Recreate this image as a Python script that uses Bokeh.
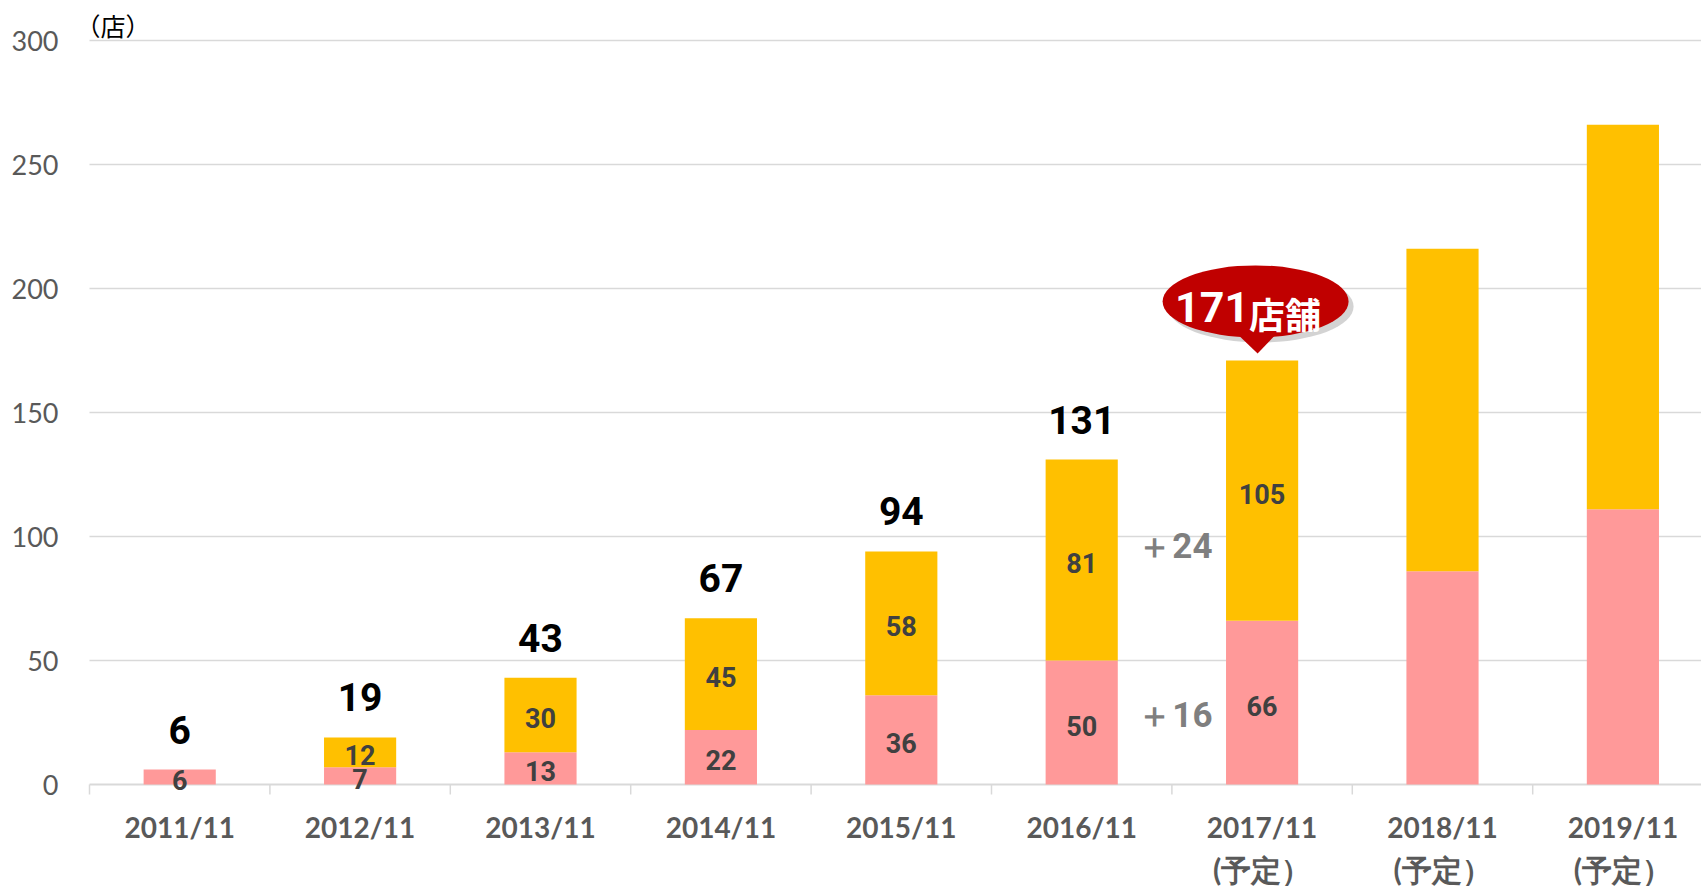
from bokeh.plotting import figure
from bokeh.models import FixedTicker, Range1d, ColumnDataSource
from bokeh.core.properties import value
from bokeh.embed import file_html
from bokeh.resources import INLINE

# ---------------- data ----------------
years = ["2011/11", "2012/11", "2013/11", "2014/11", "2015/11",
         "2016/11", "2017/11", "2018/11", "2019/11"]
planned = [False, False, False, False, False, False, True, True, True]
existing = [6, 7, 13, 22, 36, 50, 66, 86, 111]      # pink (lower)
new_open = [0, 12, 30, 45, 58, 81, 105, 130, 155]   # yellow (upper)
totals = [e + n for e, n in zip(existing, new_open)]
labelled_bars = 7          # segment values printed for first 7 bars
total_labelled = 6         # totals printed above first 6 bars
callout_idx = 6            # 171店舗 balloon
callout_unit = "店舗"
diff_notes = [("＋24", 96), ("＋16", 28)]   # text, y position
y_ticks = [0, 50, 100, 150, 200, 250, 300]
unit_label = "（店）"
plan_label = "(予定）"

# ---------------- style / layout ----------------
PINK = "#FF9999"
YELLOW = "#FFC000"
RED = "#C00000"
GRID = "#D9D9D9"
LABEL_GREY = "#595959"
NUM_FONT = value("Roboto")
PXX = 180.4    # px per category
PXY = 2.48     # px per store

W, H = 1701, 886
PLOT_LEFT = 89          # where the category area starts
LEFT = 64               # frame starts a bit earlier (room for unit label)
ZERO_Y = 784            # pixel row of the zero line
frame_w = W - LEFT
x0 = -0.5 - (PLOT_LEFT - LEFT) / PXX
x1 = x0 + frame_w / PXX
y_top = ZERO_Y / PXY
y_bot = -(H - ZERO_Y) / PXY

p = figure(width=W, height=H, output_backend="svg", toolbar_location=None,
           x_range=Range1d(x0, x1), y_range=Range1d(y_bot, y_top),
           min_border_left=LEFT, min_border_bottom=0,
           min_border_top=0, min_border_right=0)
p.outline_line_color = None
p.background_fill_color = "white"
p.border_fill_color = "white"

xs = list(range(len(years)))

# gridlines (start at the category area, like the original)
p.segment(x0=[-0.5] * len(y_ticks), x1=[x1] * len(y_ticks), y0=y_ticks, y1=y_ticks,
          line_color=GRID, line_width=[2] + [1.5] * (len(y_ticks) - 1))
# category separator ticks under the zero line
bounds = [i - 0.5 for i in range(len(years) + 1)]
p.segment(x0=bounds, x1=bounds, y0=[0] * len(bounds), y1=[-10 / PXY] * len(bounds),
          line_color=GRID, line_width=1.5)

# bars
src = ColumnDataSource(dict(x=xs, e=existing, t=totals))
p.vbar(x="x", width=0.4, bottom=0, top="e", source=src,
       fill_color=PINK, line_color=None)
p.vbar(x="x", width=0.4, bottom="e", top="t", source=src,
       fill_color=YELLOW, line_color=None)

# segment labels
seg_x, seg_y, seg_t = [], [], []
for i in range(labelled_bars):
    if existing[i] > 0:
        seg_x.append(i); seg_y.append(existing[i] / 2); seg_t.append(str(existing[i]))
    if new_open[i] > 0:
        seg_x.append(i); seg_y.append(existing[i] + new_open[i] / 2); seg_t.append(str(new_open[i]))
p.text(x=seg_x, y=seg_y, text=seg_t, text_align="center", text_baseline="middle",
       y_offset=3, text_font=NUM_FONT, text_font_style="bold",
       text_font_size="27px", text_color="#404040")

# totals above bars
p.text(x=xs[:total_labelled], y=totals[:total_labelled],
       text=[str(t) for t in totals[:total_labelled]],
       text_align="center", text_baseline="middle", y_offset=-40,
       text_font=NUM_FONT, text_font_style="bold",
       text_font_size="39px", text_color="black")

# difference notes between 2016 and 2017
p.text(x=[callout_idx - 0.5] * len(diff_notes), y=[d[1] for d in diff_notes],
       text=[d[0] for d in diff_notes], text_align="center", text_baseline="middle",
       x_offset=3, text_font=NUM_FONT, text_font_style="bold",
       text_font_size="35px", text_color="#7F7F7F")

# callout balloon
top = totals[callout_idx]
cx = callout_idx - 6.5 / PXX
cy = top + 59 / PXY
p.ellipse(x=[cx + 5 / PXX], y=[cy - 5 / PXY], width=186, height=72,
          width_units="screen", height_units="screen",
          fill_color="#808080", fill_alpha=0.35, line_color=None)
p.patch(x=[callout_idx - 28.5 / PXX, callout_idx - 4.5 / PXX, callout_idx + 19.5 / PXX],
        y=[top + 30 / PXY, top + 7 / PXY, top + 32 / PXY],
        fill_color=RED, line_color=None)
p.ellipse(x=[cx], y=[cy], width=186, height=72,
          width_units="screen", height_units="screen",
          fill_color=RED, line_color=None)
tx = callout_idx - 13 / PXX
p.text(x=[tx], y=[top + 53 / PXY], text=[str(top)], text_align="right",
       text_baseline="middle", text_font=NUM_FONT,
       text_font_style="bold", text_font_size="43px", text_color="white")
p.text(x=[tx], y=[top + 47 / PXY], text=[callout_unit], text_align="left",
       text_baseline="middle", text_font=value("Noto Sans CJK JP"),
       text_font_style="bold", text_font_size="36px", text_color="white")

# unit label
p.text(x=[-0.5 - 14 / PXX], y=[y_ticks[-1] + 16 / PXY], text=[unit_label],
       text_align="left", text_baseline="middle",
       text_font=value("Noto Sans CJK JP"), text_font_size="25px",
       text_color="black")

# category labels (drawn under the zero line)
p.text(x=xs, y=[-42 / PXY] * len(xs), text=years, text_align="center",
       text_baseline="middle", text_font=value("Lato"), text_font_style="bold",
       text_font_size="28px", text_color=LABEL_GREY)
px_ = [i for i in xs if planned[i]]
p.text(x=px_, y=[-84 / PXY] * len(px_), text=[plan_label] * len(px_),
       text_align="center", text_baseline="middle", text_font=value("Lato"),
       text_font_style="bold", text_font_size="30px", text_color=LABEL_GREY)

# axes
p.xaxis.visible = False
p.yaxis.ticker = FixedTicker(ticks=y_ticks)
p.yaxis.axis_line_color = None
p.yaxis.major_tick_line_color = None
p.yaxis.major_tick_out = 0
p.yaxis.major_tick_in = 0
p.yaxis.minor_tick_line_color = None
p.yaxis.major_label_text_font = "Lato"
p.yaxis.major_label_text_font_size = "27px"
p.yaxis.major_label_text_color = LABEL_GREY
p.yaxis.major_label_standoff = 6

p.grid.visible = False

open("out.html", "w").write(file_html(p, INLINE))
